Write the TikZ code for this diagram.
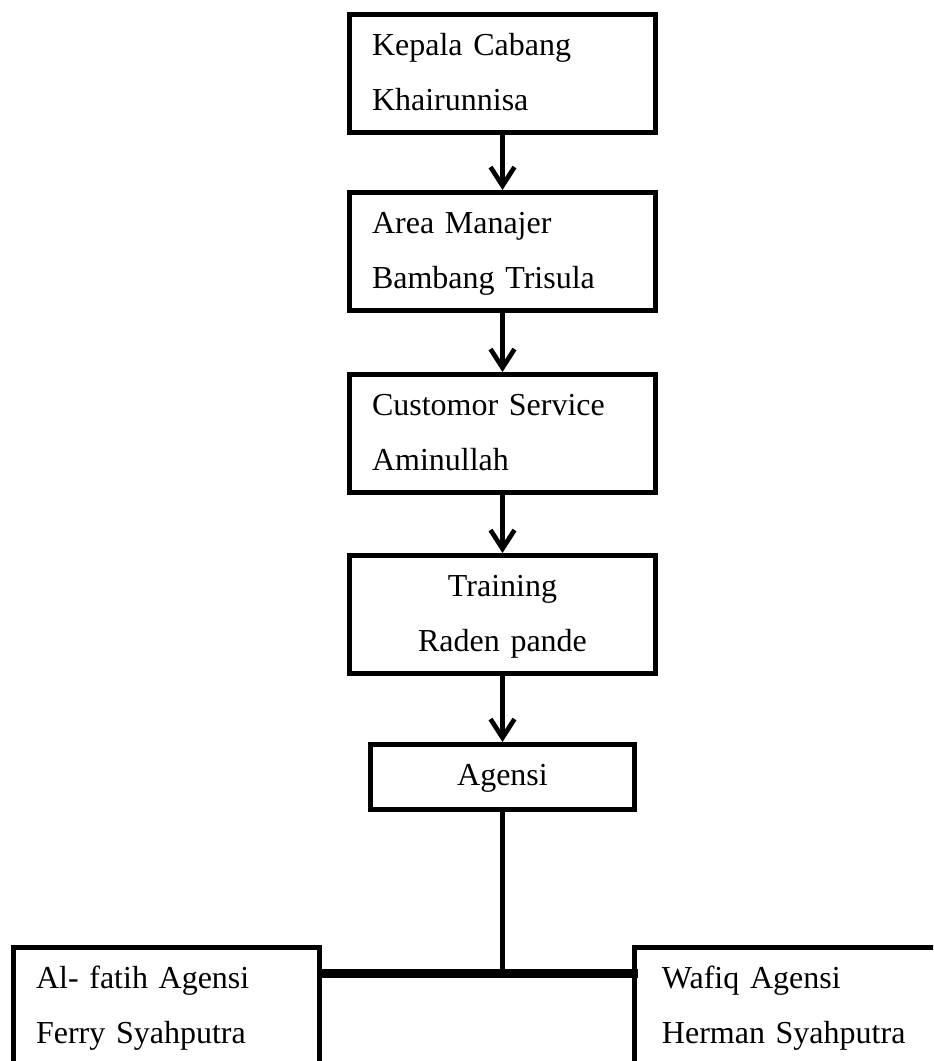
\documentclass[tikz,border=0pt]{standalone}
\usepackage{fontspec}
\setmainfont{Liberation Serif}
\usetikzlibrary{positioning,arrows.meta}

\begin{document}
\begin{tikzpicture}
[x=0.75pt,y=-0.75pt,
	unit/.style={draw,line width=3.75pt,inner xsep=16.9pt,inner ysep=1.5pt,text height=28.9pt,text depth=56.6pt,text width=195.7pt,align=left,font=\fontsize{24}{41.25}\selectfont},
	unit center/.style={unit,align=center},
	agency/.style={unit,text width=164.2pt,text depth=16.85pt,align=center},
	branch/.style={unit,text depth=90pt},
	down/.style={line width=3.5pt,-{Straight Barb[length=14pt,width=18pt]}},
	link/.style={line width=3.5pt},
	bar/.style={line width=7pt}]
\useasboundingbox (0,0) rectangle (933,1061);
\clip (0,0) rectangle (933,1061);

\node[unit,anchor=north] (kepala) at (502.5,12) {Kepala Cabang\\Khairunnisa};
\node[unit,below=41.25pt of kepala] (area) {Area Manajer\\Bambang Trisula};
\node[unit,below=44.25pt of area] (cs) {Customor Service\\Aminullah};
\node[unit center,below=43.5pt of cs] (training) {Training\\Raden pande};
\node[agency,below=49.5pt of training] (agensi) {Agensi};
\node[branch,anchor=north west] (alfatih) at (11,945) {Al- fatih Agensi\\Ferry Syahputra};
\node[branch,anchor=north west,inner xsep=20.6pt,text width=188.3pt] (wafiq) at (632,945) {Wafiq Agensi\\Herman Syahputra};

\coordinate (fork) at (502.5,973.5);

\draw[down] (kepala) -- (area);
\draw[down] (area) -- (cs);
\draw[down] (cs) -- (training);
\draw[down] (training) -- (agensi);
\draw[link] (agensi.south) -- (fork);
\draw[bar] (alfatih.east |- fork) -- ([xshift=4.5pt]wafiq.west |- fork);
\end{tikzpicture}
\end{document}
